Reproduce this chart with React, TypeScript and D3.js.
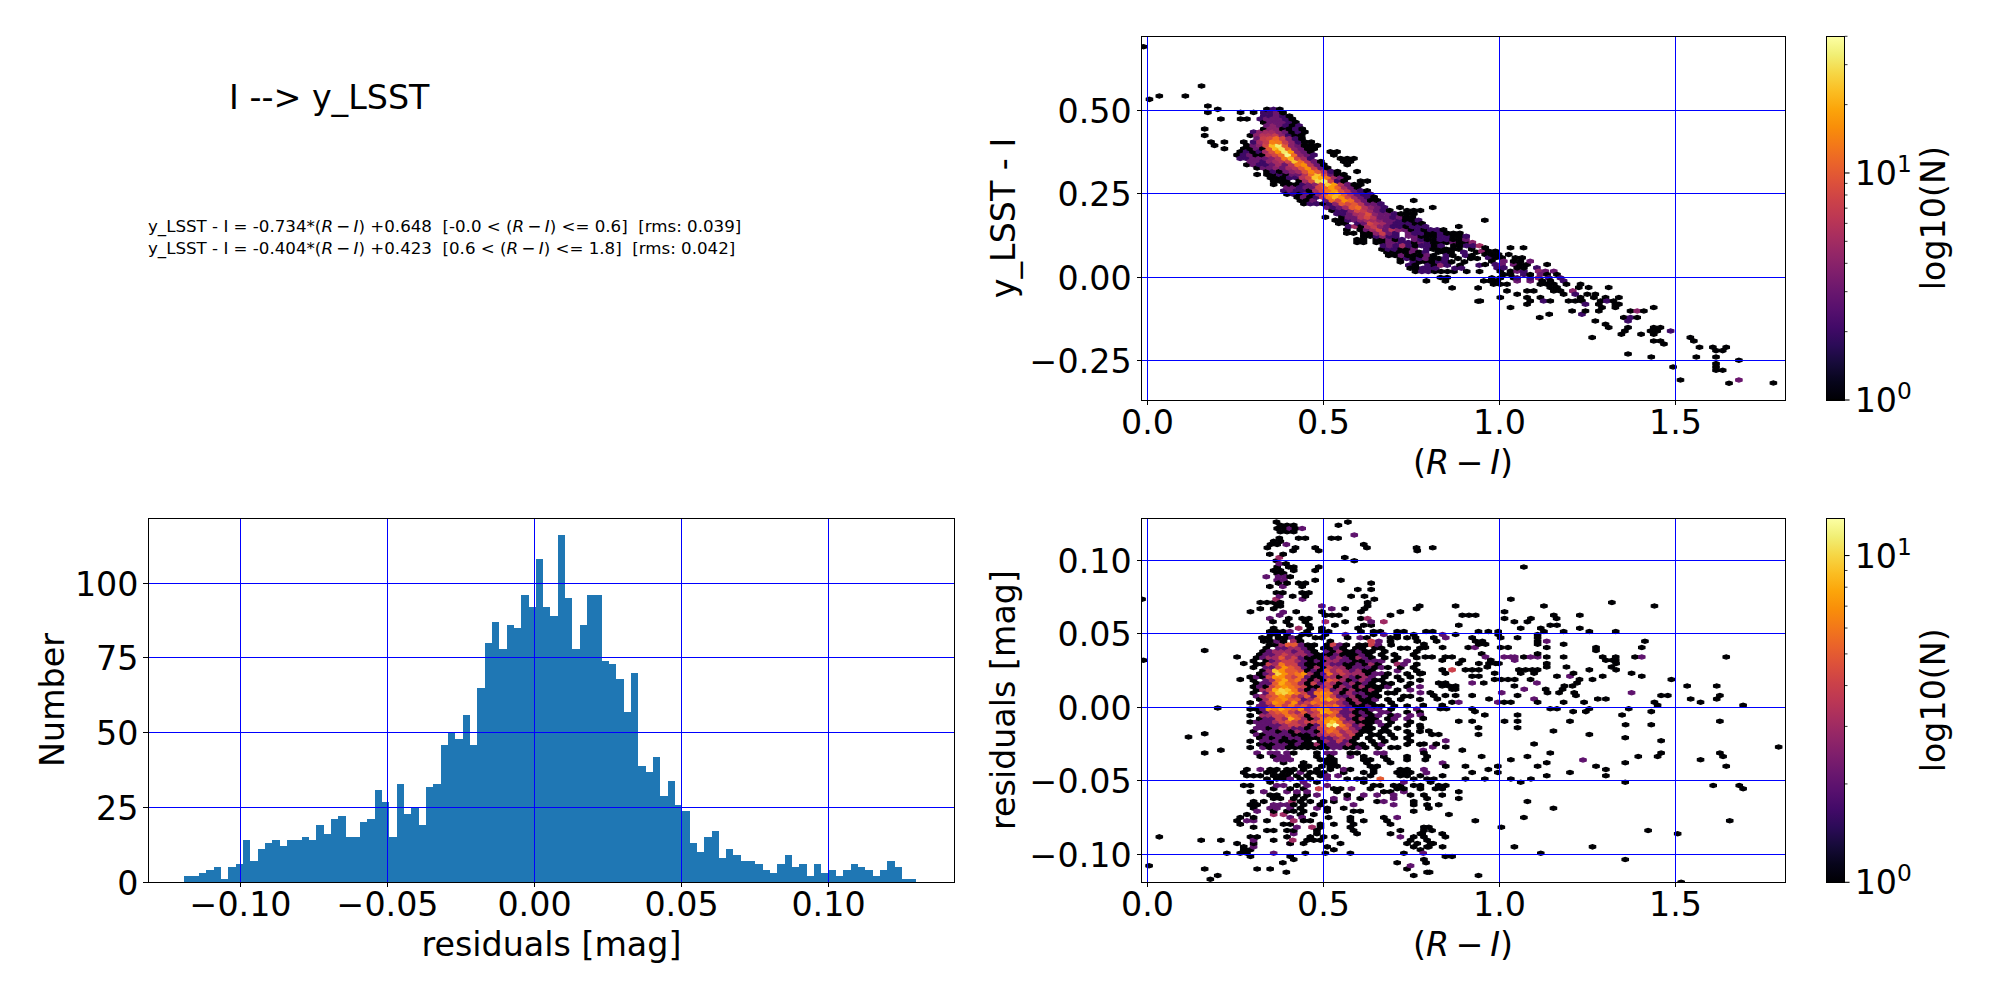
import { useEffect, useRef } from 'react';
import * as d3 from 'd3';

// Histogram of the residuals, 100 bins
const histCounts = [
  2, 2, 3, 4, 5, 1, 5, 6, 14, 7, 11, 13, 14, 12, 14, 14, 15, 14, 19, 16,
  21, 22, 15, 15, 20, 21, 31, 27, 15, 33, 23, 25, 19, 32, 33, 46, 50, 48, 56, 46,
  65, 80, 87, 78, 86, 85, 96, 92, 108, 92, 89, 116, 95, 78, 86, 96, 96, 74, 73, 68,
  57, 70, 39, 37, 42, 29, 34, 26, 24, 13, 10, 15, 17, 8, 11, 9, 7, 7, 6, 4,
  3, 6, 9, 5, 6, 2, 6, 3, 4, 2, 4, 6, 5, 4, 2, 4, 7, 5, 1, 1,
];
const histStart = -0.119;
const histBinWidth = 0.00249;

const histXTicks = [-0.1, -0.05, 0, 0.05, 0.1];
const histYTicks = [0, 25, 50, 75, 100];
const colorXTicks = [0, 0.5, 1, 1.5];
const colorYTicks = [-0.25, 0, 0.25, 0.5];
const residYTicks = [-0.1, -0.05, 0, 0.05, 0.1];

// Hex cell sizes, in data units
const hexStepX = 0.0182;
const topHexStepY = 0.0064;
const residHexStepY = 0.00145;

// y_LSST - I panel: [y, first x, counts along the row]
const topCountRows: [number, number, number[]][] = [
  [0.503, 0.339, [1, 2, 1]],
  [0.493, 0.33, [2, 2, 3, 1]],
  [0.483, 0.33, [2, 2, 3, 2, 1]],
  [0.474, 0.32, [2, 3, 3, 3, 2, 1]],
  [0.464, 0.33, [1, 3, 3, 3, 2, 1]],
  [0.454, 0.339, [3, 4, 3, 2, 1, 2]],
  [0.444, 0.33, [1, 4, 4, 1, 1, 2, 1]],
  [0.435, 0.301, [2, 4, 5, 5, 4, 3, 1, 2, 1]],
  [0.425, 0.292, [1, 4, 6, 6, 7, 4, 2, 1, 1]],
  [0.415, 0.311, [3, 7, 8, 12, 8, 4, 2, 1]],
  [0.405, 0.301, [2, 5, 7, 14, 13, 7, 4, 2, 1, 1]],
  [0.395, 0.282, [1, 3, 4, 8, 22, 33, 10, 4, 3, 1, 1, 1]],
  [0.385, 0.273, [1, 1, 3, 1, 10, 22, 30, 11, 4, 3, 1, 1]],
  [0.376, 0.263, [1, 2, 1, 2, 5, 9, 16, 32, 17, 4, 3, 1]],
  [0.366, 0.254, [1, 2, 3, 1, 1, 6, 8, 12, 36, 12, 4, 3, 2]],
  [0.356, 0.263, [2, 2, 3, 3, 3, 4, 6, 13, 22, 8, 5, 2]],
  [0.347, 0.292, [3, 3, 2, 4, 5, 6, 8, 24, 12, 6, 3, 1]],
  [0.337, 0.282, [1, 3, 2, 2, 3, 5, 3, 6, 13, 16, 6, 3, 1]],
  [0.327, 0.311, [1, 3, 3, 4, 3, 5, 6, 10, 16, 7, 3, 1]],
  [0.317, 0.339, [1, 2, 1, 3, 4, 5, 9, 15, 10, 6, 2, 1]],
  [0.308, 0.339, [1, 1, 2, 1, 3, 3, 6, 12, 24, 9, 3, 1, 1]],
  [0.298, 0.349, [1, 1, 1, 2, 2, 6, 8, 24, 20, 13, 5, 3, 1]],
  [0.288, 0.358, [1, 1, 1, 0, 1, 5, 9, 28, 32, 8, 2, 1]],
  [0.278, 0.387, [1, 1, 1, 2, 3, 4, 9, 26, 18, 6, 3, 1, 1]],
  [0.269, 0.396, [3, 3, 2, 3, 3, 8, 11, 18, 11, 5, 3, 1]],
  [0.259, 0.387, [2, 3, 2, 2, 1, 5, 8, 13, 18, 9, 6, 3, 2, 1]],
  [0.249, 0.396, [1, 2, 1, 3, 1, 4, 9, 18, 22, 11, 6, 3, 2, 2]],
  [0.24, 0.425, [1, 3, 1, 2, 6, 14, 22, 16, 8, 5, 3, 2, 1]],
  [0.23, 0.434, [1, 1, 3, 0, 3, 12, 8, 16, 12, 5, 3, 1, 1]],
  [0.22, 0.444, [1, 2, 2, 1, 2, 4, 10, 8, 10, 6, 3, 3, 2]],
  [0.209, 0.509, [3, 2, 3, 5, 10, 12, 6, 4, 3, 2]],
  [0.2, 0.524, [1, 2, 2, 4, 8, 7, 5, 3, 2, 1]],
  [0.19, 0.538, [2, 2, 3, 5, 6, 9, 4, 3, 3, 2, 1, 1, 1]],
  [0.18, 0.552, [1, 3, 3, 6, 8, 6, 3, 3, 2, 3, 1, 1]],
  [0.171, 0.533, [1, 1, 2, 3, 4, 5, 5, 4, 3, 3, 2, 1, 1, 2]],
  [0.161, 0.543, [1, 1, 0, 2, 3, 8, 6, 5, 3, 2, 2, 2, 1, 1]],
  [0.152, 0.571, [2, 5, 1, 5, 7, 4, 3, 2, 2, 1, 2, 2, 2]],
  [0.142, 0.604, [1, 3, 5, 8, 3, 6, 4, 3, 1, 2, 1, 2, 2, 1]],
  [0.132, 0.614, [1, 1, 4, 7, 3, 2, 0, 3, 2, 2, 1, 1, 2, 1, 1, 1]],
  [0.123, 0.614, [1, 1, 2, 4, 2, 2, 0, 3, 3, 1, 1, 1, 2, 2, 1, 1, 2]],
  [0.113, 0.595, [1, 1, 0, 1, 1, 3, 1, 2, 0, 3, 2, 1, 1, 2, 2, 1, 1, 3]],
  [0.104, 0.595, [1, 1, 0, 1, 1, 3, 3, 2, 2, 1, 3, 2, 1, 1, 1, 3, 1, 1, 4]],
  [0.094, 0.67, [2, 3, 2, 5, 2, 1, 2, 2, 1, 2, 0, 1, 1, 2, 2, 5]],
  [0.084, 0.666, [1, 2, 2, 1, 1, 3, 0, 2, 1, 1, 1, 1, 1, 0, 1]],
  [0.075, 0.68, [1, 1, 1, 1, 3, 1, 2, 0, 1, 1, 1, 0, 2, 0, 1]],
  [0.065, 0.685, [1, 1, 3, 1, 1, 1, 3, 1, 0, 2, 1, 0, 2, 1]],
  [0.056, 0.718, [1, 2, 1, 2, 3, 1, 1, 2, 0, 1, 0, 1, 1]],
  [0.046, 0.718, [1, 0, 2, 1, 1, 1, 2, 2, 1, 0, 1]],
  [0.036, 0.742, [2, 1, 0, 2, 1, 4, 2, 0, 1, 0, 0, 2]],
  [0.027, 0.746, [1, 1, 2, 2, 2, 0, 0, 2, 2]],
  [0.017, 0.761, [1, 2, 2, 1, 1, 1, 1, 0, 1, 0, 1]],
];

// Cells off the main band: [x, y, count]
const topCells: [number, number, number][] = [
  [-0.012, 0.691, 1], [0.005, 0.533, 1], [0.033, 0.543, 1], [0.107, 0.543, 1], [0.153, 0.573, 1],
  [0.171, 0.513, 1], [0.171, 0.494, 1], [0.199, 0.503, 1], [0.208, 0.474, 1], [0.162, 0.444, 1],
  [0.162, 0.425, 1], [0.18, 0.405, 1], [0.19, 0.395, 1], [0.218, 0.405, 1], [0.218, 0.385, 1],
  [0.264, 0.494, 1], [0.301, 0.494, 1], [0.264, 0.474, 1], [0.282, 0.474, 1], [0.273, 0.405, 1],
  [0.519, 0.376, 1], [0.538, 0.376, 1], [0.529, 0.366, 1], [0.548, 0.356, 1], [0.567, 0.356, 1],
  [0.586, 0.356, 1], [0.557, 0.347, 1], [0.576, 0.347, 1], [0.567, 0.337, 1], [0.595, 0.317, 1],
  [0.311, 0.308, 1], [0.605, 0.288, 1], [0.624, 0.288, 1], [0.358, 0.278, 1], [0.756, 0.23, 1],
  [0.717, 0.209, 1], [0.81, 0.209, 1], [0.737, 0.2, 1], [0.756, 0.2, 1], [0.775, 0.2, 1],
  [0.505, 0.18, 1], [0.958, 0.171, 1], [0.884, 0.152, 1], [0.566, 0.142, 1], [0.566, 0.132, 1],
  [0.585, 0.132, 1], [0.832, -0.001, 1], [0.851, -0.001, 1], [0.792, -0.011, 1], [0.846, -0.011, 1],
  [0.865, -0.032, 1], [0.939, -0.032, 1], [0.939, -0.072, 1],
  [0.959, 0.088, 1], [1.031, 0.088, 1], [1.068, 0.088, 1],
  [0.95, 0.078, 4], [0.969, 0.078, 1], [0.988, 0.078, 1],
  [0.959, 0.068, 1], [0.978, 0.068, 1], [0.997, 0.068, 1], [1.026, 0.068, 1],
  [0.969, 0.058, 2], [0.988, 0.058, 1], [1.007, 0.058, 1], [1.045, 0.058, 1], [1.064, 0.058, 1],
  [0.978, 0.048, 1], [1.012, 0.048, 3], [1.04, 0.048, 1], [1.059, 0.048, 1], [1.087, 0.048, 3],
  [0.959, 0.038, 1], [0.988, 0.038, 2], [1.007, 0.038, 3], [1.04, 0.038, 3], [1.059, 0.038, 1], [1.078, 0.038, 1], [1.135, 0.038, 1],
  [0.993, 0.028, 2], [1.012, 0.028, 2], [1.05, 0.028, 1], [1.069, 0.028, 1], [1.106, 0.028, 2],
  [1.002, 0.018, 1], [1.031, 0.018, 1], [1.05, 0.018, 3], [1.069, 0.018, 2], [1.111, 0.018, 4], [1.13, 0.018, 3], [1.154, 0.018, 3],
  [1.012, 0.008, 1], [1.031, 0.008, 1], [1.069, 0.008, 2], [1.087, 0.008, 1], [1.116, 0.008, 3], [1.135, 0.008, 1], [1.163, 0.008, 1],
  [0.978, -0.002, 1], [1.002, -0.002, 1], [1.04, -0.002, 1], [1.05, -0.002, 2], [1.087, -0.002, 2], [1.111, -0.002, 4], [1.14, -0.002, 2], [1.173, -0.002, 2],
  [0.955, -0.011, 1], [0.974, -0.011, 1], [0.993, -0.011, 1], [1.05, -0.011, 3], [1.087, -0.011, 3], [1.121, -0.011, 1], [1.144, -0.011, 1], [1.182, -0.011, 2],
  [0.983, -0.021, 1], [1.002, -0.021, 1], [1.021, -0.021, 1], [1.116, -0.021, 1], [1.135, -0.021, 1], [1.154, -0.021, 1], [1.19, -0.021, 1], [1.23, -0.021, 1],
  [1.144, -0.031, 1], [1.163, -0.031, 1], [1.225, -0.031, 1], [1.253, -0.031, 1], [1.31, -0.031, 1],
  [1.021, -0.041, 1], [1.078, -0.041, 1], [1.097, -0.041, 1], [1.154, -0.041, 1], [1.173, -0.041, 1], [1.208, -0.041, 4],
  [1.05, -0.051, 1], [1.182, -0.051, 1], [1.215, -0.051, 2], [1.249, -0.051, 1], [1.272, -0.051, 1],
  [1.002, -0.061, 1], [1.078, -0.061, 1], [1.116, -0.061, 1], [1.23, -0.061, 1], [1.268, -0.061, 1], [1.301, -0.061, 1], [1.339, -0.061, 1],
  [0.945, -0.071, 1], [1.087, -0.071, 1], [1.125, -0.071, 2], [1.144, -0.071, 1], [1.196, -0.071, 1], [1.215, -0.071, 1], [1.234, -0.071, 1], [1.287, -0.071, 1], [1.305, -0.071, 2], [1.324, -0.071, 1],
  [1.078, -0.081, 1], [1.244, -0.081, 2], [1.282, -0.081, 1], [1.329, -0.081, 1], [1.339, -0.081, 1],
  [1.031, -0.091, 1], [1.291, -0.091, 1], [1.329, -0.091, 1], [1.438, -0.091, 1],
  [1.206, -0.101, 1], [1.244, -0.101, 1], [1.282, -0.101, 1], [1.372, -0.101, 1], [1.391, -0.101, 4], [1.41, -0.101, 1],
  [1.141, -0.111, 1], [1.234, -0.111, 2],
  [1.114, -0.121, 1], [1.353, -0.121, 1], [1.372, -0.121, 2], [1.391, -0.121, 1],
  [1.272, -0.131, 1], [1.365, -0.131, 2], [1.301, -0.141, 1],
  [1.31, -0.151, 1], [1.365, -0.151, 1], [1.438, -0.151, 1], [1.457, -0.151, 1],
  [1.356, -0.161, 1], [1.429, -0.161, 1], [1.448, -0.161, 1], [1.486, -0.161, 2],
  [1.346, -0.171, 1], [1.402, -0.171, 1], [1.438, -0.171, 1],
  [1.263, -0.181, 1], [1.542, -0.181, 1], [1.438, -0.191, 1], [1.457, -0.191, 1], [1.552, -0.191, 1],
  [1.467, -0.2, 1], [1.568, -0.21, 1], [1.606, -0.21, 1], [1.644, -0.21, 1], [1.615, -0.22, 1], [1.634, -0.22, 1],
  [1.365, -0.23, 1], [1.431, -0.239, 1], [1.559, -0.239, 1], [1.615, -0.239, 1], [1.68, -0.249, 1],
  [1.615, -0.259, 1], [1.493, -0.269, 1], [1.615, -0.269, 1], [1.615, -0.279, 1], [1.634, -0.279, 1],
  [1.514, -0.308, 1], [1.68, -0.308, 3], [1.652, -0.318, 1], [1.778, -0.317, 1],
];

// Residuals panel, dense core: counts on rows from y = 0.0424 downward
const residCoreTop = 0.0424;
const residCoreRowStep = 0.00218;
const residCoreX = 0.2914;
const residCoreRows = [
  [0, 0, 0, 1, 1, 3, 5, 5, 2, 1, 1, 0, 1, 4, 2, 1, 0, 1, 1, 4, 2, 0, 1, 0, 0, 0, 0],
  [0, 0, 1, 0, 2, 2, 3, 3, 2, 1, 0, 1, 1, 2, 1, 0, 1, 1, 0, 1, 1, 0, 0, 1, 1, 0, 1],
  [0, 0, 1, 2, 3, 3, 3, 2, 3, 2, 1, 0, 2, 1, 3, 1, 1, 2, 1, 1, 0, 1, 0, 0, 0, 0, 1],
  [0, 1, 2, 2, 3, 4, 3, 3, 3, 2, 1, 1, 1, 2, 1, 1, 1, 2, 1, 0, 1, 0, 1, 0, 0, 1, 0],
  [0, 1, 2, 3, 3, 5, 3, 4, 2, 1, 1, 1, 3, 2, 3, 2, 1, 3, 2, 1, 0, 1, 0, 1, 0, 0, 1],
  [1, 0, 1, 2, 3, 4, 4, 3, 2, 1, 2, 1, 3, 3, 2, 2, 1, 1, 2, 2, 2, 0, 1, 0, 2, 0, 0],
  [0, 1, 1, 4, 3, 6, 4, 4, 2, 1, 1, 1, 3, 2, 2, 1, 1, 2, 1, 3, 1, 0, 0, 3, 2, 0, 1],
  [1, 0, 2, 2, 4, 7, 5, 4, 2, 1, 3, 1, 4, 3, 3, 1, 2, 2, 2, 1, 2, 1, 0, 1, 0, 1, 0],
  [0, 0, 1, 3, 9, 7, 5, 5, 4, 1, 2, 1, 5, 3, 4, 3, 2, 3, 1, 1, 0, 0, 0, 2, 0, 0, 1],
  [0, 1, 2, 3, 10, 7, 5, 6, 7, 3, 1, 2, 6, 3, 4, 3, 3, 3, 1, 2, 2, 1, 0, 0, 1, 0, 1],
  [1, 2, 1, 4, 7, 7, 5, 4, 6, 2, 1, 1, 3, 3, 1, 3, 2, 1, 3, 2, 0, 1, 0, 1, 0, 1, 0],
  [1, 0, 2, 3, 6, 8, 5, 6, 3, 1, 3, 1, 5, 4, 3, 1, 2, 3, 2, 1, 1, 0, 0, 1, 0, 0, 1],
  [0, 1, 2, 2, 5, 8, 6, 5, 3, 1, 4, 2, 4, 3, 1, 2, 3, 1, 2, 1, 0, 1, 1, 0, 0, 1, 0],
  [1, 2, 1, 4, 6, 7, 6, 5, 4, 1, 1, 3, 4, 1, 3, 2, 1, 3, 1, 1, 1, 2, 0, 0, 1, 0, 2],
  [0, 1, 3, 4, 8, 10, 9, 6, 3, 1, 2, 5, 5, 2, 3, 1, 3, 1, 1, 3, 1, 0, 0, 1, 0, 2, 0],
  [1, 0, 2, 5, 9, 10, 8, 6, 4, 2, 6, 7, 6, 3, 1, 3, 2, 2, 1, 1, 0, 1, 1, 0, 0, 0, 0],
  [0, 2, 3, 4, 5, 7, 6, 4, 3, 5, 2, 6, 6, 4, 2, 2, 3, 1, 2, 1, 1, 0, 0, 0, 1, 1, 0],
  [0, 1, 3, 5, 6, 7, 5, 5, 2, 3, 5, 7, 8, 5, 3, 1, 3, 1, 1, 2, 0, 1, 0, 1, 0, 0, 1],
  [1, 0, 2, 4, 7, 6, 4, 7, 3, 4, 6, 5, 4, 4, 3, 2, 1, 3, 1, 1, 0, 0, 1, 0, 0, 0, 0],
  [0, 2, 2, 3, 6, 4, 6, 4, 5, 3, 4, 6, 5, 6, 3, 2, 1, 1, 2, 1, 1, 0, 1, 0, 1, 0, 0],
  [1, 1, 2, 7, 6, 8, 6, 5, 7, 3, 5, 7, 7, 4, 4, 2, 3, 1, 1, 2, 2, 0, 1, 0, 0, 0, 2],
  [0, 1, 2, 4, 5, 6, 4, 3, 5, 3, 4, 8, 7, 5, 2, 2, 1, 2, 1, 0, 2, 2, 0, 0, 1, 0, 1],
  [1, 0, 3, 3, 4, 4, 6, 5, 4, 1, 4, 5, 4, 5, 3, 2, 3, 1, 2, 1, 2, 0, 1, 2, 0, 2, 0],
  [0, 1, 2, 2, 4, 3, 8, 5, 3, 1, 3, 6, 7, 7, 4, 2, 1, 3, 1, 1, 0, 1, 2, 0, 2, 0, 0],
  [1, 2, 2, 2, 3, 4, 5, 4, 3, 4, 4, 5, 7, 9, 6, 3, 3, 1, 1, 1, 2, 0, 1, 0, 0, 1, 0],
  [0, 2, 2, 2, 2, 3, 4, 4, 3, 1, 2, 5, 11, 13, 6, 4, 2, 3, 1, 0, 2, 1, 0, 0, 1, 0, 1],
  [0, 2, 2, 1, 2, 3, 3, 2, 2, 1, 2, 4, 5, 6, 4, 5, 3, 2, 1, 1, 0, 1, 0, 1, 0, 0, 0],
  [1, 0, 2, 2, 1, 2, 1, 3, 2, 2, 1, 4, 6, 5, 3, 4, 3, 1, 1, 0, 1, 1, 0, 0, 1, 0, 1],
  [0, 2, 1, 2, 2, 2, 2, 1, 1, 1, 2, 3, 4, 4, 5, 3, 4, 1, 0, 1, 1, 0, 1, 0, 0, 1, 0],
  [0, 1, 2, 1, 2, 1, 2, 2, 1, 1, 1, 2, 2, 3, 4, 3, 1, 0, 1, 0, 1, 0, 1, 0, 1, 0, 0],
  [1, 0, 2, 2, 2, 1, 1, 1, 2, 1, 0, 1, 3, 2, 4, 2, 1, 0, 0, 1, 0, 1, 0, 0, 0, 1, 0],
  [0, 1, 1, 1, 2, 2, 1, 2, 1, 1, 3, 1, 2, 2, 2, 3, 1, 1, 0, 1, 2, 0, 0, 0, 1, 0, 1],
  [1, 0, 2, 1, 2, 2, 1, 1, 1, 1, 1, 1, 1, 2, 2, 1, 1, 2, 1, 0, 1, 0, 1, 1, 0, 0, 0],
];

// Single-count cells around the core: [y, x values]
const residSingles: [number, number[]][] = [
  [0.126, [0.366, 0.569]],
  [0.1238, [0.377, 0.396, 0.415, 0.542]],
  [0.1217, [0.368, 0.387, 0.42]],
  [0.1194, [0.377, 0.396, 0.415]],
  [0.1151, [0.374, 0.429, 0.448, 0.522, 0.541]],
  [0.1129, [0.358, 0.377]],
  [0.1108, [0.349, 0.368, 0.614]],
  [0.1085, [0.34, 0.42, 0.476, 0.623, 0.764, 0.81]],
  [0.1065, [0.413, 0.486, 0.766]],
  [0.1042, [0.347, 0.385]],
  [0.102, [0.56]],
  [0.0997, [0.366, 0.587]],
  [0.0977, [0.393]],
  [0.0954, [0.368, 0.401, 0.415, 0.486, 1.069]],
  [0.0931, [0.358, 0.377, 0.415, 0.476]],
  [0.0911, [0.368, 0.386]],
  [0.0888, [0.405]],
  [0.0865, [0.476, 0.549]],
  [0.0845, [0.372, 0.396, 0.429, 0.448, 0.635]],
  [0.0822, [0.347, 0.439]],
  [0.0802, [0.597, 0.635]],
  [0.0779, [0.366, 0.384, 0.439, 0.458]],
  [0.0756, [0.412, 0.448, 0.578, 0.616]],
  [0.0736, [-0.016, 0.644, 1.032]],
  [0.0713, [0.32, 0.339, 0.358, 0.377, 0.625, 1.319]],
  [0.069, [0.368, 0.377, 0.625, 0.773, 0.875, 1.126, 1.44]],
  [0.067, [0.32, 0.358, 0.561, 0.616, 0.764]],
  [0.065, [0.292, 0.422, 0.495, 0.606, 0.718, 1.014]],
  [0.0627, [0.505, 0.524, 0.543, 0.69, 0.894, 0.913, 0.932, 1.154, 1.228]],
  [0.0604, [0.401, 0.439, 0.458, 0.606, 1.014, 1.089, 1.162]],
  [0.0582, [0.356, 0.394, 0.448, 0.561, 1.042, 1.079]],
  [0.0559, [0.404, 0.458, 0.532, 0.614, 0.635, 0.884, 1.144, 1.163]],
  [0.0538, [0.358, 0.462, 0.495, 0.598, 1.06, 1.117, 1.228]],
  [0.0516, [0.347, 0.366, 0.385, 0.453, 0.495, 0.514, 0.606, 0.642, 0.661, 0.709, 0.728, 0.791, 0.81, 0.94, 0.968, 0.996, 1.126, 1.182, 1.255, 1.33]],
  [0.0495, [0.349, 0.368, 0.396, 0.439, 0.458, 0.505, 0.642, 0.709, 0.756, 0.875, 0.996, 1.108]],
  [0.0473, [0.325, 0.344, 0.372, 0.391, 0.429, 0.477, 0.495, 0.568, 0.623, 0.69, 0.709, 0.737, 0.761, 0.813, 0.922, 1.003, 1.051, 1.108]],
  [0.045, [0.33, 0.349, 0.386, 0.434, 0.519, 0.69, 0.766, 0.821, 0.932, 0.951, 1.108, 1.413]],
  [0.0429, [0.785, 0.941, 0.96, 1.108, 1.182]],
  [0.0407, [0.789, 0.838, 0.911, 1.003, 1.024, 1.134, 1.274, 1.404]],
  [0.0386, [0.162, 1.274]],
  [0.0364, [0.949, 1.108]],
  [0.0343, [0.254, 0.789, 0.808, 0.846, 0.865, 1.069, 1.134, 1.182, 1.293, 1.33, 1.385, 1.644]],
  [0.032, [-0.012, 0.837, 0.894, 0.975, 1.302, 1.321, 1.33]],
  [0.0298, [0.273, 0.884, 0.941, 0.97, 0.989, 0.998, 1.134, 1.331]],
  [0.0275, [0.965, 1.134, 1.19, 1.318]],
  [0.0255, [0.837, 0.903, 0.922, 0.941, 1.055, 1.074, 1.093, 1.108, 1.255, 1.331]],
  [0.0232, [0.78, 0.846, 0.986, 1.06, 1.098, 1.21, 1.375]],
  [0.0212, [0.922, 0.941, 1.163, 1.293, 1.404]],
  [0.0189, [0.263, 0.986, 1.005, 1.024, 1.043, 1.088, 1.227, 1.264, 1.488]],
  [0.0166, [0.827, 0.846, 0.955, 1.22]],
  [0.0146, [0.837, 0.856, 0.875, 1.042, 1.184, 1.207, 1.533, 1.617]],
  [0.0123, [0.865, 0.875, 1.131, 1.179]],
  [0.01, [0.803, 1.136, 1.169, 1.212]],
  [0.008, [0.813, 0.846, 0.875, 0.922, 1.051, 1.217, 1.459, 1.478, 1.626]],
  [0.0057, [0.823, 0.97, 1.279, 1.302, 1.543, 1.617]],
  [0.0034, [0.865, 1.013, 1.032, 1.108, 1.182, 1.24, 1.44, 1.571]],
  [0.0014, [0.783, 0.837, 1.449, 1.692]],
  [-0.0005, [0.199]],
  [-0.0009, [0.832, 0.849, 0.922, 1.144, 1.163, 1.255, 1.367]],
  [-0.0029, [0.93, 1.209, 1.245, 1.431]],
  [-0.0052, [0.958, 1.051, 1.348]],
  [-0.0075, [0.783]],
  [-0.0095, [0.884, 0.922, 1.014, 1.051, 1.2, 1.626]],
  [-0.0118, [1.358, 1.431]],
  [-0.0138, [0.775, 0.94, 1.051]],
  [-0.0161, [0.799, 1.153]],
  [-0.0179, [0.162]],
  [-0.0184, [0.808, 0.827, 0.94, 1.255]],
  [-0.0202, [0.116]],
  [-0.0206, [1.357]],
  [-0.0227, [1.459]],
  [-0.0249, [0.785, 0.82, 1.098]],
  [-0.027, [0.847, 1.793]],
  [-0.0291, [0.208, 0.894]],
  [-0.0311, [0.162, 0.415, 0.481, 0.576, 0.595, 0.785, 1.144, 1.459, 1.626]],
  [-0.0334, [0.32, 0.358, 0.481, 0.519, 0.614, 0.671, 0.737, 0.794, 0.949, 1.079, 1.394, 1.449, 1.635]],
  [-0.0356, [0.491, 0.51, 0.529, 0.614, 0.633, 0.68, 0.737, 0.789, 1.032, 1.571]],
  [-0.0377, [0.386, 0.443, 0.51, 0.529, 0.623, 0.69, 1.134, 1.357]],
  [-0.04, [0.438, 0.457, 0.495, 0.519, 0.538, 0.633, 0.652, 0.847, 0.903, 0.995, 1.108, 1.274, 1.644]],
  [-0.0422, [0.282, 0.348, 0.367, 0.396, 0.415, 0.443, 0.481, 0.519, 0.576, 0.642, 0.718, 0.737, 0.968, 1.302]],
  [-0.0443, [0.273, 0.339, 0.358, 0.386, 0.405, 0.462, 0.481, 0.5, 0.557, 0.614, 0.642, 0.709, 0.728, 0.747, 0.922, 0.995, 1.2]],
  [-0.0465, [0.282, 0.301, 0.32, 0.358, 0.377, 0.396, 0.424, 0.453, 0.491, 0.633, 0.718, 0.737, 0.775, 0.838, 1.134, 1.302]],
  [-0.0488, [0.339, 0.367, 0.386, 0.434, 0.462, 0.567, 0.595, 0.614, 0.756, 0.794, 0.813, 0.903, 0.958, 1.032, 1.089]],
  [-0.0509, [0.348, 0.481, 0.614, 0.804, 1.06, 1.357]],
  [-0.0531, [0.273, 0.292, 0.424, 0.642, 0.661, 0.699, 0.718, 0.756, 0.775, 0.827, 0.847, 1.607, 1.681]],
  [-0.0554, [0.358, 0.405, 0.443, 0.529, 0.548, 0.633, 0.709, 0.728, 0.775, 0.818, 0.837, 1.692]],
  [-0.0574, [0.292, 0.538, 0.671, 0.69, 0.884]],
  [-0.0597, [0.348, 0.367, 0.424, 0.453, 0.567, 0.747, 0.785, 0.837]],
  [-0.062, [0.358, 0.377, 0.415, 0.443, 0.604, 0.794, 0.884]],
  [-0.064, [0.301, 0.33, 0.434, 0.462, 0.5, 0.529, 0.652, 0.756, 1.079]],
  [-0.0663, [0.292, 0.311, 0.415, 0.443, 0.491, 0.756, 0.794, 0.827]],
  [-0.0686, [0.301, 0.434, 0.51, 0.557, 0.799, 1.153]],
  [-0.0706, [0.358, 0.396, 0.415, 0.443, 0.51, 0.585, 0.604, 0.756]],
  [-0.0729, [0.282, 0.434, 0.472, 0.856]],
  [-0.0749, [0.263, 0.301, 0.514, 0.576, 0.671, 1.069]],
  [-0.0772, [0.254, 0.339, 0.443, 0.462, 0.576, 0.614, 0.68, 0.931, 1.654]],
  [-0.0795, [0.263, 0.386, 0.405, 0.491, 0.529, 0.585, 0.69]],
  [-0.0815, [0.301, 0.491, 0.576, 0.785, 0.799, 1.005]],
  [-0.0838, [0.339, 0.358, 0.396, 0.415, 0.481, 0.585, 0.718, 0.785, 0.808, 1.422]],
  [-0.086, [0.481, 0.595, 0.69, 0.775, 0.78, 0.837, 1.506]],
  [-0.0881, [0.033, 0.292, 0.311, 0.396, 0.462, 0.5, 0.532, 0.756, 0.785, 0.846]],
  [-0.0904, [0.152, 0.208, 0.358, 0.453, 0.472, 0.491, 0.747, 0.794]],
  [-0.0926, [0.254, 0.301, 0.405, 0.443, 0.548, 0.737, 0.766, 0.804, 0.811]],
  [-0.0949, [0.273, 0.51, 0.756, 0.794, 0.799, 0.838, 1.042, 1.264]],
  [-0.0969, [0.273, 0.292, 0.529, 0.775]],
  [-0.0992, [0.225, 0.263, 0.282, 0.448, 0.505, 0.576, 0.728, 1.117]],
  [-0.1014, [0.292, 0.405, 0.846, 0.865]],
  [-0.1035, [0.415, 0.785, 1.357]],
  [-0.1057, [0.384, 0.709, 0.791]],
  [-0.1078, [0.004]],
  [-0.1099, [0.162, 0.311, 0.348, 0.737]],
  [-0.1121, [0.394, 0.794, 0.801]],
  [-0.1144, [0.199, 0.756, 0.94]],
  [-0.117, [0.178]],
  [-0.1189, [1.516]],
];

// Cells holding more than one point: [x, y, count]
const residCells: [number, number, number][] = [
  [0.405, 0.1217, 2], [0.439, 0.1217, 2], [0.587, 0.1172, 2], [0.394, 0.1108, 2], [0.374, 0.102, 3],
  [0.374, 0.0977, 2], [0.337, 0.0888, 2], [0.372, 0.0888, 2], [0.391, 0.0888, 2], [0.368, 0.0865, 2],
  [0.387, 0.0865, 2], [0.384, 0.0822, 2], [0.375, 0.0756, 2], [0.44, 0.0736, 2], [0.365, 0.0736, 3],
  [0.495, 0.069, 2], [0.523, 0.067, 2], [0.385, 0.0647, 2], [0.375, 0.0627, 2], [0.347, 0.0604, 2],
  [0.625, 0.0604, 3], [0.505, 0.0582, 3], [0.635, 0.0582, 2], [0.671, 0.0582, 3], [0.429, 0.0538, 3],
  [0.404, 0.0516, 2], [0.562, 0.0495, 2], [0.671, 0.0495, 2], [0.41, 0.0473, 2], [0.604, 0.0473, 2],
  [0.368, 0.045, 2], [0.415, 0.045, 3], [0.635, 0.045, 4], [0.657, 0.045, 2],
  [0.838, 0.0495, 2], [0.847, 0.0473, 2], [1.134, 0.045, 2], [0.93, 0.0407, 2],
  [0.96, 0.0343, 2], [1.013, 0.0343, 2], [1.032, 0.0343, 2], [1.043, 0.0343, 2], [1.088, 0.0343, 2], [1.108, 0.0343, 2], [1.404, 0.0343, 2],
  [1.043, 0.032, 2], [0.865, 0.0255, 4], [1.2, 0.0212, 2], [0.922, 0.0166, 2], [1.106, 0.0166, 2],
  [1.07, 0.0123, 2], [0.775, 0.01, 2], [1.006, 0.01, 2], [1.375, 0.01, 2], [1.098, 0.0057, 2],
  [0.884, 0.0034, 2], [0.995, 0.0034, 2], [0.775, -0.0052, 2], [0.847, -0.0227, 2], [0.81, -0.027, 2], [0.783, -0.0292, 2],
  [1.237, -0.0358, 2], [0.838, -0.0379, 2], [0.792, -0.0445, 2], [0.783, -0.0992, 2],
  [0.311, -0.0311, 2], [0.349, -0.0311, 2], [0.367, -0.0311, 2], [0.396, -0.0311, 2], [0.51, -0.0311, 2], [0.529, -0.0311, 2], [0.652, -0.0311, 2], [0.671, -0.0311, 2],
  [0.377, -0.0334, 2], [0.396, -0.0334, 2], [0.576, -0.0334, 2], [0.367, -0.0356, 2], [0.386, -0.0356, 2], [0.405, -0.0356, 2],
  [0.32, -0.0422, 2], [0.557, -0.0422, 2], [0.785, -0.0422, 2], [0.434, -0.0443, 2],
  [0.51, -0.0465, 2], [0.541, -0.0465, 2], [0.405, -0.0488, 2], [0.51, -0.0488, 2], [0.661, -0.0488, 5],
  [0.443, -0.0509, 2], [0.728, -0.0509, 2], [0.367, -0.0531, 2], [0.386, -0.0531, 2], [0.453, -0.0531, 2], [0.51, -0.0531, 2],
  [0.486, -0.0554, 4], [0.579, -0.0554, 2], [0.33, -0.0574, 2], [0.396, -0.0574, 2], [0.424, -0.0574, 2], [0.453, -0.0574, 2], [0.728, -0.0574, 2],
  [0.481, -0.0597, 2], [0.614, -0.0597, 2], [0.652, -0.0597, 2], [0.699, -0.0597, 2], [0.529, -0.062, 2], [0.567, -0.062, 2], [0.699, -0.062, 2],
  [0.41, -0.064, 3], [0.671, -0.064, 2], [0.358, -0.0663, 2], [0.377, -0.0663, 2], [0.396, -0.0663, 2], [0.491, -0.0663, 2], [0.585, -0.0663, 2], [0.699, -0.0663, 2],
  [0.348, -0.0686, 2], [0.367, -0.0686, 2], [0.405, -0.0686, 2], [0.481, -0.0686, 2], [0.311, -0.0706, 2],
  [0.358, -0.0729, 3], [0.386, -0.0729, 3], [0.405, -0.0749, 2], [0.439, -0.0749, 2], [0.709, -0.0749, 2],
  [0.282, -0.0772, 2], [0.301, -0.0772, 2], [0.415, -0.0772, 3], [0.424, -0.0815, 2], [0.467, -0.0815, 3],
  [0.415, -0.086, 2], [0.718, -0.0881, 2], [0.301, -0.0904, 2], [0.412, -0.0904, 3], [0.405, -0.0926, 2],
  [0.301, -0.0949, 2], [0.358, -0.0992, 2], [0.747, -0.1078, 2],
];

const inferno = d3.interpolateInferno;

export default function App() {
  const svgRef = useRef<SVGSVGElement>(null);

  useEffect(() => {
    if (!svgRef.current) return;

    const svg = d3.select(svgRef.current);
    svg.selectAll('*').remove();

    const tickSize = 4.86;
    const labelSize = 33.3;
    // Keeps thin lines on one pixel row
    const snap = (v: number) => Math.floor(v) + 0.5;

    const axes = {
      top: { left: 1141.5, right: 1785, top: 36.3, bottom: 400 },
      hist: { left: 148.3, right: 954.7, top: 518.3, bottom: 882.3 },
      resid: { left: 1141.5, right: 1785, top: 518.3, bottom: 882.3 },
    };

    // Scales
    const topX = d3.scaleLinear().domain([-0.0176, 1.811]).range([axes.top.left, axes.top.right]);
    const topY = d3.scaleLinear().domain([-0.368, 0.722]).range([axes.top.bottom, axes.top.top]);
    const histX = d3.scaleLinear().domain([-0.1313, 0.143]).range([axes.hist.left, axes.hist.right]);
    const histY = d3.scaleLinear().domain([0, 121.7]).range([axes.hist.bottom, axes.hist.top]);
    const residX = d3.scaleLinear().domain([-0.0176, 1.811]).range([axes.resid.left, axes.resid.right]);
    const residY = d3.scaleLinear().domain([-0.119, 0.1286]).range([axes.resid.bottom, axes.resid.top]);

    const topColor = d3.scaleSequentialLog(inferno).domain([1, 40]);
    const residColor = d3.scaleSequentialLog(inferno).domain([1, 13]);

    const root = svg.append('g').style('font-family', "'DejaVu Sans'").attr('fill', '#000');

    const defs = svg.append('defs');
    const addClip = (id: string, box: typeof axes.top) => {
      defs.append('clipPath').attr('id', id)
        .append('rect')
        .attr('x', box.left).attr('y', box.top)
        .attr('width', box.right - box.left).attr('height', box.bottom - box.top);
    };
    addClip('clip-top', axes.top);
    addClip('clip-resid', axes.resid);

    const hexPath = (cx: number, cy: number, w: number, h: number) =>
      `M${cx + w / 2},${cy - h / 2}L${cx + w / 2},${cy + h / 2}L${cx},${cy + h}` +
      `L${cx - w / 2},${cy + h / 2}L${cx - w / 2},${cy - h / 2}L${cx},${cy - h}Z`;

    const drawHexes = (
      clip: string,
      cells: [number, number, number][],
      x: d3.ScaleLinear<number, number>,
      y: d3.ScaleLinear<number, number>,
      color: (n: number) => string,
      stepY: number,
    ) => {
      const w = x(hexStepX) - x(0);
      const h = y(0) - y(stepY);
      // Same paint order as a lattice walked column by column
      const ordered = [...cells].sort((a, b) => a[0] - b[0] || a[1] - b[1]);
      root.append('g')
        .attr('clip-path', `url(#${clip})`)
        .selectAll('path')
        .data(ordered)
        .enter()
        .append('path')
        .attr('d', d => hexPath(x(d[0]), y(d[1]), w, h))
        .attr('fill', d => color(d[2]))
        .attr('stroke', d => color(d[2]))
        .attr('stroke-width', 1.2);
    };

    const drawFrame = (
      box: typeof axes.top,
      x: d3.ScaleLinear<number, number>,
      y: d3.ScaleLinear<number, number>,
      xTicks: number[],
      yTicks: number[],
      xFormat: string,
      yFormat: string,
    ) => {
      // Grid lines sit over the data
      const grid = root.append('g')
        .attr('stroke', '#0000ff')
        .attr('stroke-width', 1)
        .attr('shape-rendering', 'crispEdges');
      xTicks.forEach(t => {
        grid.append('line').attr('x1', snap(x(t))).attr('x2', snap(x(t))).attr('y1', box.top).attr('y2', box.bottom);
      });
      yTicks.forEach(t => {
        grid.append('line').attr('x1', box.left).attr('x2', box.right).attr('y1', snap(y(t))).attr('y2', snap(y(t)));
      });

      const xAxis = d3.axisBottom(x)
        .tickValues(xTicks)
        .tickFormat(d3.format(xFormat) as any)
        .tickSize(tickSize)
        .tickPadding(5)
        .offset(0);
      const gx = root.append('g')
        .attr('transform', `translate(0,${box.bottom})`)
        .call(xAxis)
        .style('font-size', `${labelSize}px`)
        .style('font-family', "'DejaVu Sans'");
      gx.select('.domain').remove();

      const yAxis = d3.axisLeft(y)
        .tickValues(yTicks)
        .tickFormat(d3.format(yFormat) as any)
        .tickSize(tickSize)
        .tickPadding(5)
        .offset(0);
      const gy = root.append('g')
        .attr('transform', `translate(${box.left},0)`)
        .call(yAxis)
        .style('font-size', `${labelSize}px`)
        .style('font-family', "'DejaVu Sans'");
      gy.select('.domain').remove();
      gy.selectAll('text').attr('dy', '0.36em');

      gx.selectAll('.tick').attr('transform', (d: any) => `translate(${snap(x(d))},0)`);
      gy.selectAll('.tick').attr('transform', (d: any) => `translate(0,${snap(y(d))})`);

      [gx, gy].forEach(g => g.selectAll('line')
        .attr('stroke-width', 1)
        .attr('shape-rendering', 'crispEdges'));

      root.append('rect')
        .attr('x', snap(box.left)).attr('y', snap(box.top))
        .attr('width', Math.round(box.right - box.left)).attr('height', Math.round(box.bottom - box.top))
        .attr('fill', 'none').attr('stroke', '#000').attr('stroke-width', 1.1)
        .attr('shape-rendering', 'crispEdges');
    };

    const drawColorbar = (
      id: string,
      box: typeof axes.top,
      vmax: number,
      minors: number[],
    ) => {
      const cbLeft = 1826.7;
      const cbRight = 1844.7;
      const gradient = defs.append('linearGradient').attr('id', id)
        .attr('x1', 0).attr('x2', 0).attr('y1', 1).attr('y2', 0);
      d3.range(0, 1.0001, 0.05).forEach(t => {
        gradient.append('stop').attr('offset', t).attr('stop-color', inferno(t));
      });
      root.append('rect')
        .attr('x', cbLeft).attr('y', box.top)
        .attr('width', cbRight - cbLeft).attr('height', box.bottom - box.top)
        .attr('fill', `url(#${id})`)
        .attr('stroke', '#000').attr('stroke-width', 1.1)
        .attr('shape-rendering', 'crispEdges');

      const scale = d3.scaleLog().domain([1, vmax]).range([box.bottom, box.top]);
      [1, 10].forEach(v => {
        root.append('line')
          .attr('x1', cbRight).attr('x2', cbRight + tickSize)
          .attr('y1', scale(v)).attr('y2', scale(v))
          .attr('stroke', '#000').attr('stroke-width', 1.1);
        const label = root.append('text')
          .attr('x', cbRight + 10).attr('y', scale(v) + 12)
          .style('font-size', `${labelSize}px`);
        label.append('tspan').text('10');
        label.append('tspan').attr('dy', -13).style('font-size', '23.3px').text(v === 1 ? '0' : '1');
      });
      minors.forEach(v => {
        root.append('line')
          .attr('x1', cbRight).attr('x2', cbRight + 2.8)
          .attr('y1', scale(v)).attr('y2', scale(v))
          .attr('stroke', '#000').attr('stroke-width', 0.8);
      });
      root.append('text')
        .attr('transform', `translate(1945,${(box.top + box.bottom) / 2}) rotate(-90)`)
        .attr('text-anchor', 'middle')
        .style('font-size', `${labelSize}px`)
        .text('log10(N)');
    };

    // R - I with the italics and tight spacing of mathtext
    const appendRI = (t: d3.Selection<SVGTextElement, unknown, null, undefined>) => {
      t.append('tspan').style('font-style', 'italic').text('R');
      t.append('tspan').text('\u2009\u2212\u2009');
      t.append('tspan').style('font-style', 'italic').text('I');
    };

    const riLabel = (cx: number, baseline: number) => {
      const t = root.append('text')
        .attr('x', cx).attr('y', baseline)
        .attr('text-anchor', 'middle')
        .style('font-size', `${labelSize}px`);
      t.append('tspan').text('(');
      appendRI(t as any);
      t.append('tspan').text(')');
    };

    const rotatedLabel = (text: string, x: number, cy: number) => {
      root.append('text')
        .attr('transform', `translate(${x},${cy}) rotate(-90)`)
        .attr('text-anchor', 'middle')
        .style('font-size', `${labelSize}px`)
        .text(text);
    };

    // Title and fit text, upper left
    root.append('text')
      .attr('x', 229).attr('y', 109)
      .style('font-size', `${labelSize}px`)
      .text('I --> y_LSST');

    const fitLines = [
      { y: 232, head: 'y_LSST - I = -0.734*(', mid: ') +0.648  [-0.0 < (', tail: ') <= 0.6]  [rms: 0.039]' },
      { y: 253.7, head: 'y_LSST - I = -0.404*(', mid: ') +0.423  [0.6 < (', tail: ') <= 1.8]  [rms: 0.042]' },
    ];
    fitLines.forEach(line => {
      const t = root.append('text')
        .attr('x', 148).attr('y', line.y)
        .style('font-size', '16.67px')
        .style('white-space', 'pre');
      t.append('tspan').text(line.head);
      appendRI(t as any);
      t.append('tspan').text(line.mid);
      appendRI(t as any);
      t.append('tspan').text(line.tail);
    });

    // Top right panel
    const topList: [number, number, number][] = [...topCells];
    topCountRows.forEach(([y, x0, counts]) => {
      counts.forEach((n, i) => {
        if (n > 0) topList.push([x0 + i * hexStepX, y, n]);
      });
    });
    drawHexes('clip-top', topList, topX, topY, v => topColor(v), topHexStepY);
    drawFrame(axes.top, topX, topY, colorXTicks, colorYTicks, '.1f', '.2f');
    riLabel(1463, 474);
    rotatedLabel('y_LSST - I', 1015, 218);
    drawColorbar('cb-top', axes.top, 40, [2, 3, 4, 5, 6, 7, 8, 9, 20, 30, 40]);

    // Histogram
    root.append('g')
      .attr('shape-rendering', 'crispEdges')
      .selectAll('rect')
      .data(histCounts)
      .enter()
      .append('rect')
      .attr('x', (_, i) => histX(histStart + i * histBinWidth))
      .attr('y', d => histY(d))
      .attr('width', (_, i) => histX(histStart + (i + 1) * histBinWidth) - histX(histStart + i * histBinWidth))
      .attr('height', d => histY(0) - histY(d))
      .attr('fill', '#1f77b4');
    drawFrame(axes.hist, histX, histY, histXTicks, histYTicks, '.2f', 'd');
    root.append('text')
      .attr('x', 551.5).attr('y', 956)
      .attr('text-anchor', 'middle')
      .style('font-size', `${labelSize}px`)
      .text('residuals [mag]');
    rotatedLabel('Number', 64, 700);

    // Bottom right panel
    const residList: [number, number, number][] = [...residCells];
    residSingles.forEach(([y, xs]) => {
      xs.forEach(x => residList.push([x, y, 1]));
    });
    residCoreRows.forEach((counts, r) => {
      const y = residCoreTop - r * residCoreRowStep;
      const x0 = residCoreX + (r % 2 ? hexStepX / 2 : 0);
      counts.forEach((n, i) => {
        if (n > 0) residList.push([x0 + i * hexStepX, y, n]);
      });
    });
    drawHexes('clip-resid', residList, residX, residY, v => residColor(v), residHexStepY);
    drawFrame(axes.resid, residX, residY, colorXTicks, residYTicks, '.1f', '.2f');
    riLabel(1463, 956);
    rotatedLabel('residuals [mag]', 1015, 700);
    drawColorbar('cb-resid', axes.resid, 13, [2, 3, 4, 5, 6, 7, 8, 9]);
  }, []);

  return (
    <svg
      ref={svgRef}
      width={2000}
      height={1000}
      style={{ position: 'absolute', left: 0, top: 0, display: 'block', background: '#fff' }}
    />
  );
}
